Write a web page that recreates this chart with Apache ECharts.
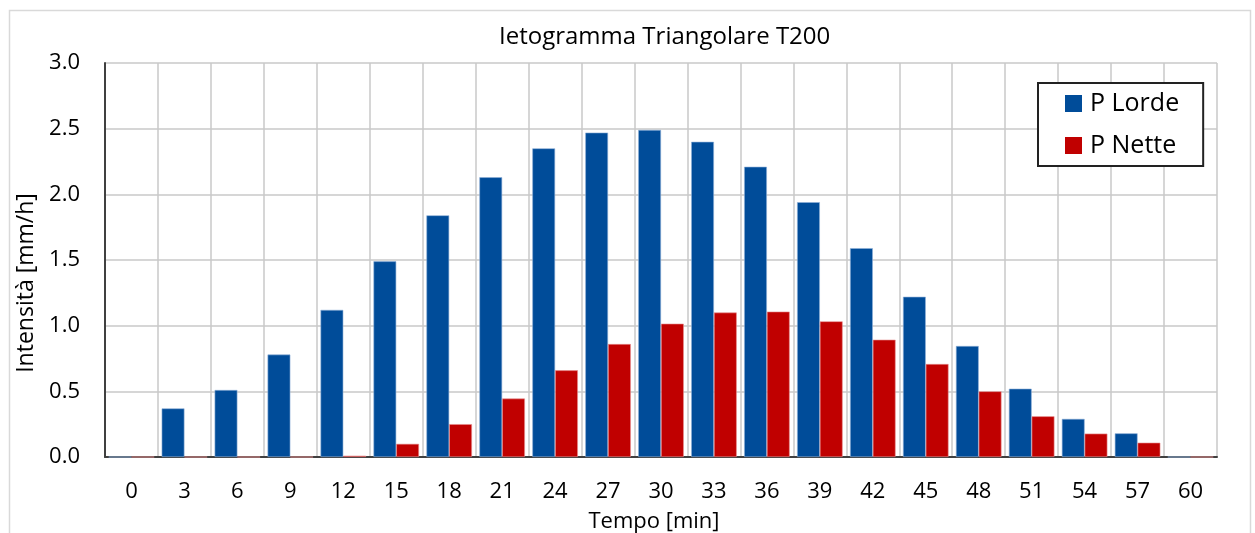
<!DOCTYPE html>
<html>
<head>
<meta charset="utf-8">
<script src="https://cdn.jsdelivr.net/npm/echarts@6/dist/echarts.min.js"></script>
<style>
html,body{margin:0;padding:0;background:#fff;}
#chart{width:1255px;height:533px;}
</style>
</head>
<body>
<div id="chart"></div>
<script>
const categories = ['0','3','6','9','12','15','18','21','24','27','30','33','36','39','42','45','48','51','54','57','60'];
const pLorde = [0, 0.37, 0.51, 0.78, 1.12, 1.49, 1.84, 2.13, 2.35, 2.47, 2.49, 2.40, 2.21, 1.94, 1.59, 1.22, 0.845, 0.52, 0.29, 0.18, 0];
const pNette = [0, 0, 0, 0, 0.01, 0.10, 0.25, 0.445, 0.66, 0.86, 1.015, 1.10, 1.107, 1.033, 0.893, 0.708, 0.50, 0.31, 0.178, 0.109, 0];
const yTicks = [0, 0.5, 1.0, 1.5, 2.0, 2.5, 3.0];

const FONT = 'Open Sans';
const chart = echarts.init(document.getElementById('chart'));
chart.setOption({
  animation: false,
  textStyle: {fontFamily: FONT},
  title: {
    text: 'Ietogramma Triangolare T200',
    left: 494, top: 20,
    textStyle: {fontFamily: FONT, fontSize: 24, fontWeight: 'normal', color: '#000'}
  },
  graphic: [{
    type: 'rect', left: 7, top: 8,
    shape: {width: 1241, height: 540},
    style: {fill: 'none', stroke: '#d9d9d9', lineWidth: 1.5},
    silent: true
  }],
  legend: {
    left: 1038, top: 83,
    orient: 'vertical',
    icon: 'rect',
    itemWidth: 17, itemHeight: 17, itemGap: 17,
    padding: [8, 24, 8, 27],
    borderColor: '#222', borderWidth: 2,
    backgroundColor: '#fff',
    itemStyle: {borderWidth: 0},
    textStyle: {fontFamily: FONT, fontSize: 25, lineHeight: 25, color: '#000', padding: [0, 0, 0, 3]},
    data: ['P Lorde', 'P Nette']
  },
  grid: {left: 105, right: 38, top: 63, bottom: 76, containLabel: false, outerBoundsMode: 'none'},
  xAxis: {
    type: 'category',
    data: categories,
    name: 'Tempo [min]',
    nameLocation: 'middle',
    nameGap: 54,
    nameTextStyle: {fontFamily: FONT, fontSize: 22, color: '#000', padding: [0, 14, 0, 0]},
    axisLine: {show: true, lineStyle: {color: '#404040', width: 2}},
    axisTick: {show: false},
    axisLabel: {fontFamily: FONT, fontSize: 22, color: '#000', margin: 24},
    splitLine: {show: true, lineStyle: {color: '#c8c8c8', width: 1.5}}
  },
  yAxis: {
    type: 'value',
    min: 0, max: 3, interval: 0.5,
    name: 'Intensità [mm/h]',
    nameLocation: 'middle',
    nameGap: 60,
    nameTextStyle: {fontFamily: FONT, fontSize: 23, color: '#000', padding: [0, 46, 0, 0]},
    axisLine: {show: true, lineStyle: {color: '#404040', width: 2}},
    axisTick: {show: false},
    axisLabel: {fontFamily: FONT, fontSize: 22, color: '#000', margin: 25,
      formatter: v => yTicks.includes(v) ? v.toFixed(1) : ''},
    splitLine: {show: true, lineStyle: {color: '#c8c8c8', width: 1.5}}
  },
  series: [
    {name: 'P Lorde', type: 'bar', data: pLorde, barGap: '0%', barCategoryGap: '14%',
     itemStyle: {color: '#004C99', borderColor: '#8fb0d8', borderWidth: 0.6}},
    {name: 'P Nette', type: 'bar', data: pNette,
     itemStyle: {color: '#C00000', borderColor: '#e89090', borderWidth: 0.6}}
  ]
});
</script>
</body>
</html>
